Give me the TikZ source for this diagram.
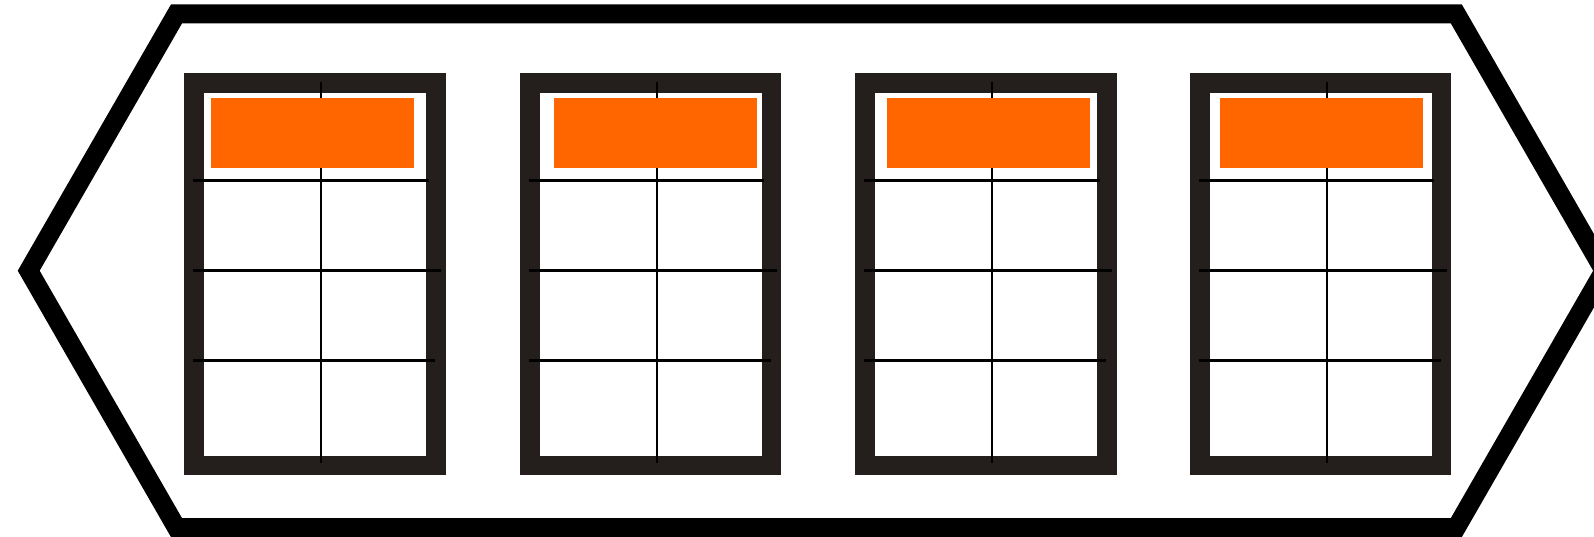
\documentclass[tikz,border=0pt]{standalone}
\usepackage{xcolor}
\usetikzlibrary{calc}
\definecolor{FrameColor}{RGB}{36,31,29}
\definecolor{BarColor}{RGB}{255,102,0}
\tikzset{
  hexline/.style={draw=black, fill=white, line width=19pt, line join=miter},
  framebox/.style={draw=FrameColor, fill=white, line width=19.5pt},
  gridline/.style={draw=black, line width=2.4pt},
  orangebar/.style={fill=BarColor},
}
\begin{document}
\begin{tikzpicture}[x=1pt, y=-1pt]
    \useasboundingbox (0,0) rectangle (1594,537);
    \clip (0,0) rectangle (1594,537);
    \draw[hexline] (176.5,13.9) -- (1456.3,13.9) -- (1604.1,270.7) -- (1456.3,527.6)
      -- (176.5,527.6) -- (28.7,270.7) -- cycle;
    \foreach \x/\o in {184.3/26.7, 520/34.3, 855.3/32, 1190/30}{
      \draw[framebox] (\x+9.9,83) rectangle (\x+251.5,465.3);
      \draw[gridline] (\x+136.8,82) -- (\x+136.8,463.3);
      \fill[orangebar] (\x+\o,98.5) rectangle (\x+\o+202.6,168.5);
      \draw[gridline] (\x+8.8,180.5) -- (\x+244.2,180.5);
      \draw[gridline] (\x+8.8,270.4) -- (\x+256.5,270.4);
      \draw[gridline] (\x+8.8,360.6) -- (\x+250.6,360.6);
    }
\end{tikzpicture}
\end{document}
